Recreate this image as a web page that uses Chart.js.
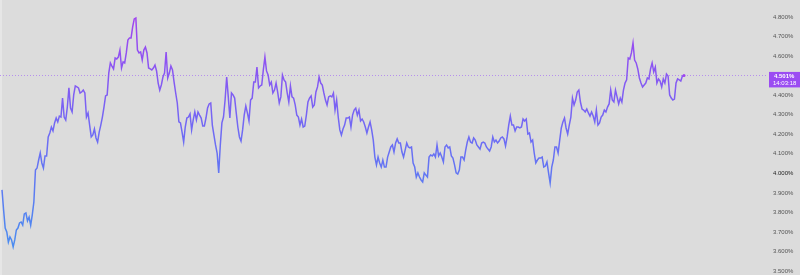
<!DOCTYPE html>
<html>
<head>
<meta charset="utf-8">
<script src="https://cdn.jsdelivr.net/npm/chart.js@4"></script>
<style>
  html, body { margin: 0; padding: 0; background: #dcdcdc; }
  #c { display: block; }
</style>
</head>
<body>
<canvas id="c" width="800" height="275"></canvas>
<script>
// ---- DATA (yield, %) ----
const values = [
  3.915, 3.812, 3.720, 3.700, 3.648, 3.674, 3.659, 3.623, 3.659, 3.710,
  3.720, 3.746, 3.751, 3.735, 3.792, 3.797, 3.756, 3.776, 3.735, 3.787,
  3.853, 4.017, 4.027, 4.068, 4.104, 4.053, 4.027, 4.089, 4.089, 4.186,
  4.206, 4.237, 4.217, 4.258, 4.283, 4.263, 4.293, 4.288, 4.385, 4.288,
  4.273, 4.339, 4.437, 4.334, 4.314, 4.401, 4.447, 4.442, 4.437, 4.411,
  4.416, 4.426, 4.411, 4.288, 4.309, 4.247, 4.186, 4.196, 4.227, 4.181,
  4.160, 4.211, 4.247, 4.288, 4.339, 4.396, 4.401, 4.513, 4.565, 4.549,
  // segment 2
  4.534, 4.590, 4.585, 4.595, 4.631, 4.539, 4.570, 4.565, 4.616, 4.682,
  4.693, 4.693, 4.749, 4.790, 4.795, 4.631, 4.616, 4.621, 4.580, 4.631,
  4.646, 4.616, 4.539, 4.534, 4.529, 4.539, 4.554, 4.524, 4.462, 4.426,
  4.452, 4.493, 4.513, 4.621, 4.488, 4.513, 4.549, 4.529, 4.467, 4.411,
  4.360, 4.263, 4.258, 4.211, 4.160, 4.237, 4.283, 4.288, 4.304, 4.222,
  4.273, 4.314, 4.273, 4.314, 4.298, 4.283, 4.242, 4.242, 4.283, 4.334,
  4.355, 4.360, 4.247, 4.196, 4.145, 4.104, 4.002, 4.145, 4.258, 4.288,
  4.375, 4.493, 4.391,
  // segment 3
  4.283, 4.411, 4.401, 4.385, 4.309, 4.237, 4.186, 4.165, 4.222, 4.298,
  4.344, 4.309, 4.268, 4.375, 4.385, 4.467, 4.467, 4.544, 4.437, 4.447,
  4.452, 4.529, 4.595, 4.524, 4.503, 4.452, 4.467, 4.411, 4.426, 4.462,
  4.416, 4.360, 4.391, 4.503, 4.478, 4.467, 4.411, 4.365, 4.447, 4.391,
  4.385, 4.350, 4.298, 4.288, 4.247, 4.278, 4.237, 4.242, 4.298, 4.365,
  4.385, 4.396, 4.339, 4.350, 4.416, 4.442, 4.493, 4.462, 4.452, 4.411,
  4.375, 4.350, 4.391, 4.396, 4.391, 4.411, 4.324, 4.375, 4.288, 4.222,
  4.196, 4.227,
  // segment 4
  4.247, 4.283, 4.283, 4.288, 4.237, 4.298, 4.324, 4.334, 4.298, 4.324,
  4.268, 4.278, 4.263, 4.237, 4.206, 4.237, 4.263, 4.222, 4.170, 4.083,
  4.043, 4.083, 4.053, 4.032, 4.068, 4.032, 4.032, 4.083, 4.109, 4.135,
  4.145, 4.109, 4.155, 4.176, 4.155, 4.155, 4.109, 4.083, 4.119, 4.155,
  4.135, 4.130, 4.135, 4.053, 4.032, 3.981, 4.002, 3.981, 3.966, 3.956,
  4.002, 3.991, 3.981, 4.083, 4.094, 4.089, 4.099, 4.083, 4.145, 4.089,
  4.104, 4.083, 4.058, 4.135, 4.145, 4.130, 4.135, 4.089, 4.078, 4.043,
  4.002, 3.996,
  // segment 5
  4.017, 4.083, 4.083, 4.068, 4.119, 4.160, 4.186, 4.160, 4.155, 4.181,
  4.170, 4.145, 4.135, 4.124, 4.155, 4.160, 4.155, 4.135, 4.124, 4.114,
  4.135, 4.186, 4.160, 4.170, 4.155, 4.165, 4.181, 4.186, 4.176, 4.140,
  4.186, 4.247, 4.293, 4.247, 4.247, 4.217, 4.237, 4.237, 4.232, 4.237,
  4.278, 4.268, 4.278, 4.201, 4.206, 4.160, 4.170, 4.104, 4.053, 4.068,
  4.078, 4.078, 4.083, 4.032, 4.037, 4.058, 4.002, 3.950, 4.032, 4.068,
  4.135, 4.135, 4.104, 4.170, 4.232, 4.263, 4.283, 4.232, 4.201, 4.247,
  4.288, 4.385,
  // segment 6
  4.350, 4.375, 4.416, 4.426, 4.365, 4.329, 4.324, 4.314, 4.329, 4.309,
  4.293, 4.314, 4.293, 4.263, 4.324, 4.247, 4.258, 4.288, 4.298, 4.324,
  4.314, 4.339, 4.355, 4.426, 4.375, 4.365, 4.426, 4.391, 4.355, 4.385,
  4.365, 4.426, 4.462, 4.478, 4.590, 4.585, 4.616, 4.667, 4.580, 4.565,
  4.534, 4.488, 4.462, 4.442, 4.452, 4.462, 4.488, 4.483, 4.534, 4.565,
  4.519, 4.544, 4.462, 4.483, 4.472, 4.442, 4.483, 4.462, 4.508, 4.498,
  4.401, 4.385, 4.375, 4.380, 4.462, 4.483, 4.478, 4.472, 4.498, 4.501
];
const tickValues = [3.5, 3.6, 3.7, 3.8, 3.9, 4.0, 4.1, 4.2, 4.3, 4.4, 4.6, 4.7, 4.8];
const lastLabel = "4.501%";
const lastTime = "14:03:18";

// ---- layout helpers ----
const N = values.length;
const plotRight = 768;       // chart area right edge in px
const firstPx = 2, lastPx = 684;
const span = (N - 1) * plotRight / (lastPx - firstPx);
const xMin = -firstPx * span / plotRight;
const xMax = xMin + span;
const yMin = 3.4796, yMax = 4.887;

const points = values.map((v, i) => ({ x: i, y: v }));

const bgPlugin = {
  id: 'bg',
  beforeDraw(chart) {
    const c = chart.ctx;
    c.save();
    c.fillStyle = '#dcdcdc';
    c.fillRect(0, 0, chart.width, chart.height);
    c.fillStyle = '#e6e6e6';
    c.fillRect(0, 0, 2, chart.height);
    c.restore();
  }
};

const lastLinePlugin = {
  id: 'lastLine',
  beforeDatasetsDraw(chart) {
    const c = chart.ctx, a = chart.chartArea;
    const y = Math.round(chart.scales.y.getPixelForValue(values[N - 1])) + 0.5;
    c.save();
    c.strokeStyle = 'rgba(175,130,240,0.85)';
    c.lineWidth = 1;
    c.setLineDash([1, 2]);
    c.beginPath();
    c.moveTo(a.left, y);
    c.lineTo(a.right, y);
    c.stroke();
    c.restore();
  },
  afterDraw(chart) {
    const c = chart.ctx, a = chart.chartArea;
    const y = chart.scales.y.getPixelForValue(values[N - 1]);
    c.save();
    c.fillStyle = '#9b4cf2';
    c.fillRect(a.right + 1, y - 3.5, chart.width - a.right - 1, 15.5);
    c.fillStyle = '#ffffff';
    c.textAlign = 'left';
    c.textBaseline = 'middle';
    c.font = 'bold 6px "Liberation Sans", Arial, sans-serif';
    c.fillText(lastLabel, a.right + 6, y + 1);
    c.font = '6px "Liberation Sans", Arial, sans-serif';
    c.fillText(lastTime, a.right + 5, y + 7.5);
    c.restore();
  }
};

function lineGradient(ctx) {
  const chart = ctx.chart;
  const a = chart.chartArea;
  if (!a) return '#7060f0';
  const ys = chart.scales.y;
  const g = chart.ctx.createLinearGradient(0, ys.getPixelForValue(3.62), 0, ys.getPixelForValue(4.8));
  g.addColorStop(0, '#4a8cf0');
  g.addColorStop(0.5, '#6f6af4');
  g.addColorStop(1, '#a044f0');
  return g;
}

new Chart(document.getElementById('c'), {
  type: 'line',
  data: {
    datasets: [{
      data: points,
      borderColor: lineGradient,
      borderWidth: 1.5,
      pointRadius: (ctx) => ctx.dataIndex === N - 1 ? 1.5 : 0,
      pointBackgroundColor: '#a044f0',
      pointBorderWidth: 0,
      tension: 0,
      fill: false,
      clip: false
    }]
  },
  options: {
    responsive: false,
    devicePixelRatio: 1,
    animation: false,
    layout: { padding: 0, autoPadding: false },
    plugins: { legend: { display: false }, tooltip: { enabled: false } },
    scales: {
      x: { type: 'linear', display: false, min: xMin, max: xMax },
      y: {
        position: 'right',
        min: yMin, max: yMax,
        afterFit(scale) {
          scale.width = 800 - plotRight;
          scale.paddingTop = 0;
          scale.paddingBottom = 0;
        },
        afterBuildTicks(scale) { scale.ticks = tickValues.map(v => ({ value: v })); },
        grid: { display: false, drawTicks: false },
        border: { display: false },
        ticks: {
          padding: 5,
          crossAlign: 'near',
          font: { family: '"Liberation Sans", Arial, sans-serif', size: 6 },
          color: (ctx) => (ctx.tick && ctx.tick.value === 4) ? '#222' : '#555',
          callback: (v) => Number(v).toFixed(3) + '%'
        }
      }
    }
  },
  plugins: [bgPlugin, lastLinePlugin]
});
</script>
</body>
</html>
